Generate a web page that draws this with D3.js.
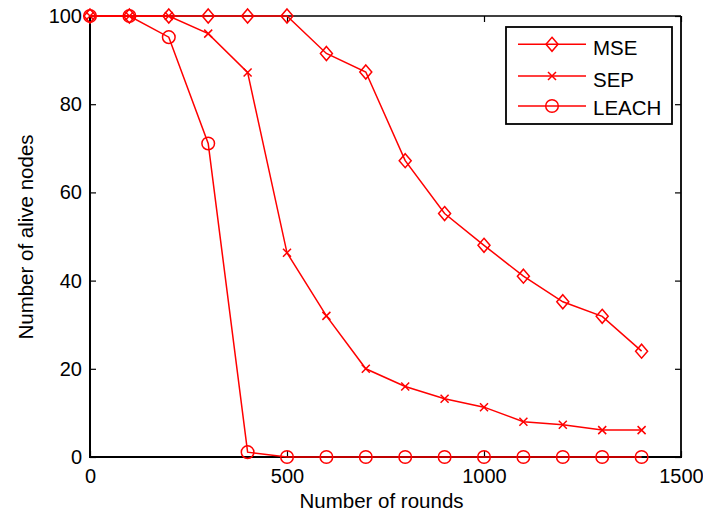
<!DOCTYPE html>
<html><head><meta charset="utf-8">
<script src="https://cdn.jsdelivr.net/npm/d3@7"></script>
<style>body{margin:0;background:#fff}svg{display:block}text{font-family:"Liberation Sans",Arial,sans-serif}</style>
</head><body>
<svg id="c" width="703" height="512"></svg>
<script>
const rounds = [0,100,200,300,400,500,600,700,800,900,1000,1100,1200,1300,1400];
const mse   = [100,100,100,100,100,100,91.5,87.3,67.2,55.2,48,41,35.2,31.9,24];
const sep   = [100,100,100,96,87.2,46.3,32,20,16,13.2,11.3,8,7.3,6.1,6.1];
const leach = [100,100,95.2,71.1,1.1,0,0,0,0,0,0,0,0,0,0];
const xTicks = [0,500,1000,1500];
const yTicks = [0,20,40,60,80,100];
const seriesNames = ["MSE","SEP","LEACH"];
const markers = ["diamond","x","circle"];

const svg = d3.select("#c");
const L=90, R=681, T=16, B=457;
const x = d3.scaleLinear().domain([0,1500]).range([L,R]);
const y = d3.scaleLinear().domain([0,100]).range([B,T]);
const red = "#ff0000";
const fs = "20px";
const fmt = d3.format("d");

const gx = svg.append("g").attr("transform",`translate(0,${B})`)
  .call(d3.axisBottom(x).tickValues(xTicks).tickFormat(fmt).tickSizeInner(-6).tickSizeOuter(0).tickPadding(12));
const gxt = svg.append("g").attr("transform",`translate(0,${T})`)
  .call(d3.axisTop(x).tickValues(xTicks).tickSizeInner(-6).tickSizeOuter(0).tickFormat(""));
const gy = svg.append("g").attr("transform",`translate(${L},0)`)
  .call(d3.axisLeft(y).tickValues(yTicks).tickFormat(fmt).tickSizeInner(-6).tickSizeOuter(0).tickPadding(8));
const gyr = svg.append("g").attr("transform",`translate(${R},0)`)
  .call(d3.axisRight(y).tickValues(yTicks).tickSizeInner(-6).tickSizeOuter(0).tickFormat(""));
[gx,gxt,gy,gyr].forEach(g=>{
  g.select(".domain").remove();
  g.selectAll("line").attr("stroke","#000").attr("stroke-width",1.2);
  g.selectAll("text").attr("fill","#000").style("font-size",fs).style("font-family",'"Liberation Sans",Arial,sans-serif');
});
gx.selectAll("text").attr("dy","0.7em");
svg.append("line").attr("x1",L).attr("x2",R).attr("y1",T).attr("y2",T).attr("stroke","#000").attr("stroke-width",1.5);
svg.append("line").attr("x1",R).attr("x2",R).attr("y1",T).attr("y2",B).attr("stroke","#000").attr("stroke-width",1.8);
svg.append("line").attr("x1",L).attr("x2",R+1).attr("y1",B).attr("y2",B).attr("stroke","#000").attr("stroke-width",2);
svg.append("line").attr("x1",L).attr("x2",L).attr("y1",T).attr("y2",B+1).attr("stroke","#000").attr("stroke-width",2);

svg.append("text").attr("x",(L+R)/2-4).attr("y",508).attr("text-anchor","middle").style("font-size","20.5px").text("Number of rounds");
svg.append("text").attr("transform",`translate(33,237) rotate(-90)`).attr("text-anchor","middle").style("font-size","20.5px").text("Number of alive nodes");

function drawMarker(g, type, cx, cy){
  if(type==="diamond"){
    g.append("path").attr("d",`M${cx},${cy-7}L${cx+6},${cy}L${cx},${cy+7}L${cx-6},${cy}Z`)
      .attr("fill","none").attr("stroke",red).attr("stroke-width",1.5);
  } else if(type==="x"){
    g.append("path").attr("d",`M${cx-4},${cy-4}L${cx+4},${cy+4}M${cx-4},${cy+4}L${cx+4},${cy-4}`)
      .attr("stroke",red).attr("stroke-width",1.5);
  } else {
    g.append("circle").attr("cx",cx).attr("cy",cy).attr("r",6.3)
      .attr("fill","none").attr("stroke",red).attr("stroke-width",1.5);
  }
}

const allSeries = [mse, sep, leach];
const line = d3.line().x(d=>x(d[0])).y(d=>y(d[1]));
allSeries.forEach((vals,i)=>{
  const g = svg.append("g");
  const pts = rounds.map((r,j)=>[r,vals[j]]);
  g.append("path").attr("d",line(pts)).attr("fill","none").attr("stroke",red).attr("stroke-width",1.5);
  pts.forEach(p=>drawMarker(g, markers[i], x(p[0]), y(p[1])));
});

const lg = svg.append("g");
lg.append("rect").attr("x",506).attr("y",27).attr("width",166).attr("height",97)
  .attr("fill","#fff").attr("stroke","#000").attr("stroke-width",1.8);
const ly = [44.3,76,106];
const tb = [55,86.7,115];
seriesNames.forEach((n,i)=>{
  lg.append("line").attr("x1",518).attr("x2",586).attr("y1",ly[i]).attr("y2",ly[i]).attr("stroke",red).attr("stroke-width",1.5);
  drawMarker(lg, markers[i], 552, ly[i]);
  lg.append("text").attr("x",593).attr("y",tb[i]).style("font-size","20.5px").text(n);
});
</script>
</body></html>
